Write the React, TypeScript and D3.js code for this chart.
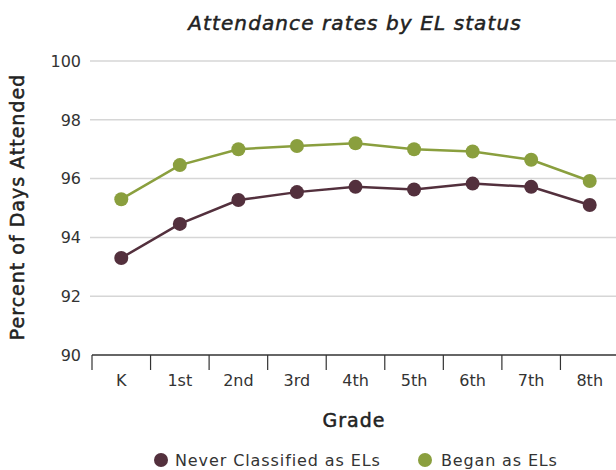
import React from "react";
import * as d3 from "d3";

const grades = ["K", "1st", "2nd", "3rd", "4th", "5th", "6th", "7th", "8th"];
const neverEL = [93.3, 94.46, 95.27, 95.54, 95.72, 95.63, 95.83, 95.72, 95.1];
const beganEL = [95.3, 96.46, 97.0, 97.11, 97.2, 97.0, 96.92, 96.64, 95.92];
const yTicks = [90, 92, 94, 96, 98, 100];
const seriesNames = ["Never Classified as ELs", "Began as ELs"];
const colors = ["#53303d", "#8a9f3e"];

const W = 616;
const H = 470;
const FONT = "'DejaVu Sans', sans-serif";

export default function App() {
  const x = d3.scaleBand<string>().domain(grades).range([92, 619]).padding(0);
  const y = d3.scaleLinear().domain([90, 100]).range([355, 61]);
  const line = d3
    .line<number>()
    .x((_, i) => (x(grades[i]) as number) + x.bandwidth() / 2)
    .y((d) => y(d));
  const series = [neverEL, beganEL];
  const tickXs = grades.map((g) => x(g) as number);

  return (
    <svg
      width={W}
      height={H}
      style={{ position: "absolute", left: 0, top: 0 }}
      fontFamily={FONT}
    >
      <text
        x={355}
        y={30}
        textAnchor="middle"
        fontSize={20}
        letterSpacing={1.1}
        fontStyle="italic"
        fill="#222"
        stroke="#222"
        strokeWidth={0.5}
      >
        Attendance rates by EL status
      </text>
      {yTicks.map((t) => (
        <g key={t}>
          {t !== 90 && (
            <line x1={90} x2={W} y1={y(t)} y2={y(t)} stroke="#d6d6d6" strokeWidth={1.5} />
          )}
          <text x={81} y={y(t)} dy="0.36em" textAnchor="end" fontSize={16} fill="#333">
            {t}
          </text>
        </g>
      ))}
      <line x1={92} x2={W} y1={y(90)} y2={y(90)} stroke="#333" strokeWidth={1.5} />
      {tickXs.map((tx, i) => (
        <line key={i} x1={tx} x2={tx} y1={y(90)} y2={370} stroke="#333" strokeWidth={1.2} />
      ))}
      {grades.map((g) => (
        <text
          key={g}
          x={(x(g) as number) + x.bandwidth() / 2}
          y={380}
          dy="0.36em"
          textAnchor="middle"
          fontSize={16}
          fill="#333"
        >
          {g}
        </text>
      ))}
      <text
        transform={`translate(24,${207}) rotate(-90)`}
        textAnchor="middle"
        fontSize={19}
        letterSpacing={1}
        fill="#222"
        stroke="#222"
        strokeWidth={0.5}
      >
        Percent of Days Attended
      </text>
      <text
        x={354}
        y={420}
        dy="0.36em"
        textAnchor="middle"
        fontSize={19}
        letterSpacing={1}
        fill="#222"
        stroke="#222"
        strokeWidth={0.5}
      >
        Grade
      </text>
      {series.map((s, si) => (
        <g key={si}>
          <path d={line(s) as string} fill="none" stroke={colors[si]} strokeWidth={2.5} />
          {s.map((v, i) => (
            <circle
              key={i}
              cx={(x(grades[i]) as number) + x.bandwidth() / 2}
              cy={y(v)}
              r={7}
              fill={colors[si]}
            />
          ))}
        </g>
      ))}
      <g>
        <circle cx={161} cy={460} r={7} fill={colors[0]} />
        <text x={175} y={460} dy="0.36em" fontSize={16} letterSpacing={0.9} fill="#333">
          {seriesNames[0]}
        </text>
        <circle cx={425} cy={460} r={7} fill={colors[1]} />
        <text x={441} y={460} dy="0.36em" fontSize={16} letterSpacing={0.85} fill="#333">
          {seriesNames[1]}
        </text>
      </g>
    </svg>
  );
}
